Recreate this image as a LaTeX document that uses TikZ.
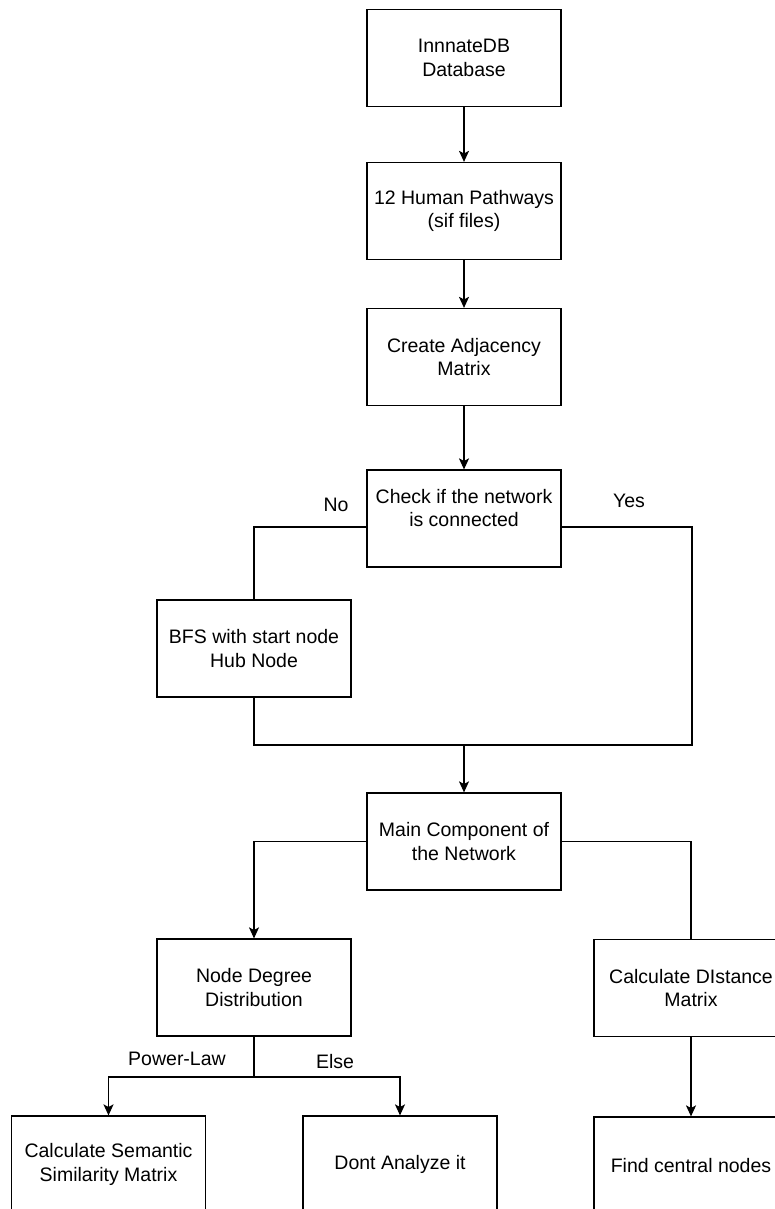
\documentclass[tikz,border=0pt]{standalone}
\usepackage{fontspec}
\setmainfont{Liberation Sans}
\usetikzlibrary{arrows.meta}
\begin{document}
\begin{tikzpicture}[x=1pt,y=-1pt,
  box/.style={draw, line width=1.2pt, minimum width=194pt, minimum height=97pt, align=center, inner sep=0pt,
    font=\fontsize{19.5}{23.4}\selectfont},
  txt/.style={align=center, inner sep=0pt, font=\fontsize{19.5}{23.4}\selectfont},
  conn/.style={line width=1.2pt},
  arr/.style={line width=1.2pt, -{Stealth[length=11pt,width=10pt,inset=2.5pt]}}]
\useasboundingbox (0,0) rectangle (775,1209);
\clip (0,0) rectangle (775,1209);
\fill[white] (0,0) rectangle (775,1209);
% boxes
\node[box] (db) at (464,58) {InnnateDB\\Database};
\node[box] (hp) at (464,211) {12 Human Pathways\\(sif files)};
\node[box] (adj) at (464,357) {Create Adjacency\\Matrix};
\node[box] (chk) at (464,518.5) {};
\node[txt] (chkt) at (464,508) {Check if the network\\is connected};
\node[box] (bfs) at (254,648.5) {BFS with start node\\Hub Node};
\node[box] (main) at (464,841.5) {Main Component of\\the Network};
\node[box] (deg) at (254,987.5) {Node Degree\\Distribution};
\node[box] (dist) at (691,988) {Calculate DIstance\\Matrix};
\node[box] (cent) at (691,1165.5) {Find central nodes};
\node[box] (sem) at (108.5,1164.5) {Calculate Semantic\\Similarity Matrix};
\node[box] (dont) at (400,1164.5) {Dont Analyze it};
% coordinates
\coordinate (jL) at (254,527);
\coordinate (jR) at (692,527);
\coordinate (jBL) at (254,745);
\coordinate (jBR) at (692,745);
\coordinate (jM) at (464,745);
\coordinate (jD) at (254,1077);
% connectors
\draw[arr] (db) -- (hp);
\draw[arr] (hp) -- (adj);
\draw[arr] (adj) -- (chk);
\draw[conn] (chk.west |- jL) -- (jL) -- (bfs.north);
\draw[conn] (chk.east |- jR) -- (jR) -- (jBR) -- (jBL) -- (bfs.south);
\draw[arr] (jM) -- (main.north);
\draw[arr] (main.west) -- (main.west -| deg.north) -- (deg.north);
\draw[conn] (main.east) -- (main.east -| dist.north) -- (dist.north);
\draw[arr] (dist) -- (cent);
\draw[conn] (deg.south) -- (jD);
\draw[arr] (jD) -| (sem.north);
\draw[arr] (jD) -| (dont.north);
% labels
\node[txt] (lno) at (336,505) {No};
\node[txt] (lyes) at (629,501) {Yes};
\node[txt] (lpow) at (177,1059) {Power-Law};
\node[txt] (lelse) at (335,1062) {Else};
\end{tikzpicture}
\end{document}
